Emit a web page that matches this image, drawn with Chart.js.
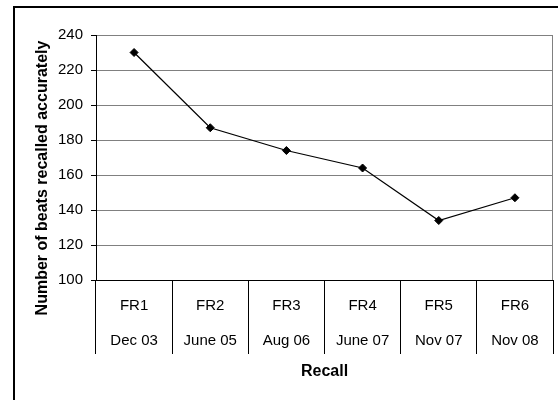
<!DOCTYPE html>
<html>
<head>
<meta charset="utf-8">
<script src="https://cdn.jsdelivr.net/npm/chart.js@4/dist/chart.umd.min.js"></script>
<style>
  html, body { margin: 0; padding: 0; background: #fff; }
  #wrap { width: 558px; height: 400px; }
</style>
</head>
<body>
<div id="wrap"><canvas id="chart" width="558" height="400"></canvas></div>
<script>
// Free-recall sessions and the date each one took place
const sessions = ['FR1', 'FR2', 'FR3', 'FR4', 'FR5', 'FR6'];
const sessionDates = ['Dec 03', 'June 05', 'Aug 06', 'June 07', 'Nov 07', 'Nov 08'];
// Beats recalled accurately in each session
const beatsRecalled = [230, 187, 174, 164, 134, 147];
// Value axis range
const yMin = 100;
const yMax = 240;
const yStep = 20;

const yTitle = 'Number of beats recalled accurately';
const xTitle = 'Recall';

const FONT = "'Liberation Sans', Arial, sans-serif";
const GRID_GREY = '#808080';

// Two-line category labels: session name above its date
const categoryLabels = sessions.map((s, i) => [s, sessionDates[i]]);

// Frame, right plot edge and the rotated value-axis title
const decorations = {
  id: 'decorations',
  beforeDraw(chart) {
    const ctx = chart.ctx;
    ctx.save();
    ctx.fillStyle = '#ffffff';
    ctx.fillRect(0, 0, chart.width, chart.height);
    ctx.fillStyle = '#000000';
    ctx.fillRect(13, 6, chart.width - 13, 2);
    ctx.fillRect(13, 6, 2, chart.height - 6);
    ctx.restore();
  },
  beforeDatasetsDraw(chart) {
    const { ctx, chartArea } = chart;
    const x = Math.round(chartArea.right) - 0.5;
    ctx.save();
    ctx.strokeStyle = GRID_GREY;
    ctx.lineWidth = 1;
    ctx.beginPath();
    ctx.moveTo(x, chartArea.top);
    ctx.lineTo(x, chartArea.bottom);
    ctx.stroke();
    ctx.restore();
  },
  afterDraw(chart) {
    const ctx = chart.ctx;
    ctx.save();
    ctx.translate(43, 178);
    ctx.rotate(-Math.PI / 2);
    ctx.font = 'bold 16px ' + FONT;
    ctx.fillStyle = '#000000';
    ctx.textAlign = 'center';
    ctx.textBaseline = 'middle';
    ctx.fillText(yTitle, 0, 0);
    ctx.restore();
  }
};

new Chart(document.getElementById('chart'), {
  type: 'line',
  data: {
    labels: categoryLabels,
    datasets: [{
      data: beatsRecalled,
      borderColor: '#000000',
      borderWidth: 1.25,
      backgroundColor: '#000000',
      pointStyle: 'rectRot',
      pointRadius: 4,
      pointBorderWidth: 1,
      pointBorderColor: '#000000',
      pointBackgroundColor: '#000000',
      tension: 0,
      fill: false
    }]
  },
  options: {
    responsive: false,
    devicePixelRatio: 1,
    animation: false,
    layout: { padding: { left: 0, top: 35, right: 4, bottom: 0 } },
    plugins: {
      legend: { display: false },
      tooltip: { enabled: false }
    },
    scales: {
      x: {
        type: 'category',
        offset: true,
        grid: {
          offset: true,
          drawOnChartArea: false,
          drawTicks: true,
          tickLength: 74,
          tickColor: '#000000',
          tickWidth: 1
        },
        border: { display: true, color: '#000000', width: 1 },
        ticks: {
          color: '#000000',
          font: { family: FONT, size: 15, lineHeight: 35 / 15 },
          padding: -65.5,
          maxRotation: 0,
          minRotation: 0,
          autoSkip: false
        },
        title: {
          display: true,
          text: xTitle,
          color: '#000000',
          font: { family: FONT, size: 16, weight: 'bold' },
          padding: { top: 0, bottom: 18.4 }
        },
        afterFit(scale) { scale.height = 120; }
      },
      y: {
        min: yMin,
        max: yMax,
        ticks: {
          stepSize: yStep,
          color: '#000000',
          font: { family: FONT, size: 15 },
          padding: 8
        },
        grid: {
          color: GRID_GREY,
          tickColor: '#000000',
          tickLength: 5,
          lineWidth: 1
        },
        border: { display: true, color: '#000000', width: 1 },
        afterFit(scale) { scale.width = 96; }
      }
    }
  },
  plugins: [decorations]
});
</script>
</body>
</html>
